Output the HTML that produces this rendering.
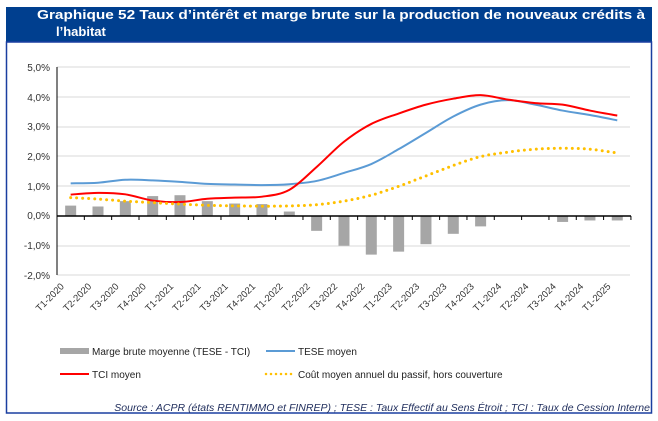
<!DOCTYPE html>
<html><head><meta charset="utf-8"><style>
body{margin:0;background:#fff;}
svg{display:block;font-family:"Liberation Sans",sans-serif;}
</style></head><body>
<svg width="658" height="421" xmlns="http://www.w3.org/2000/svg">
<rect x="0" y="0" width="658" height="421" fill="#fff"/>
<rect x="6" y="7" width="646" height="35" fill="#003f8f"/>
<rect x="6.5" y="42" width="645" height="371" fill="none" stroke="#1a3fa0" stroke-width="1.5"/>
<text x="37" y="19" fill="#fff" font-weight="bold" font-size="13" textLength="608" lengthAdjust="spacingAndGlyphs">Graphique 52 Taux d’intérêt et marge brute sur la production de nouveaux crédits à</text>
<text x="56" y="36" fill="#fff" font-weight="bold" font-size="13">l’habitat</text>
<g stroke="#d9d9d9" stroke-width="1">
<line x1="57" y1="67" x2="630" y2="67"/><line x1="57" y1="97" x2="630" y2="97"/><line x1="57" y1="127" x2="630" y2="127"/><line x1="57" y1="156" x2="630" y2="156"/><line x1="57" y1="186" x2="630" y2="186"/><line x1="57" y1="246" x2="630" y2="246"/><line x1="57" y1="275" x2="630" y2="275"/>
</g>
<g font-size="10" fill="#333" text-anchor="end">
<text x="50" y="71">5,0%</text><text x="50" y="101">4,0%</text><text x="50" y="130">3,0%</text><text x="50" y="160">2,0%</text><text x="50" y="190">1,0%</text><text x="50" y="219">0,0%</text><text x="50" y="249">-1,0%</text><text x="50" y="279">-2,0%</text>
</g>
<g id="bars" fill="#a6a6a6"></g>
<line x1="57" y1="67" x2="57" y2="275" stroke="#000" stroke-width="1"/>
<line x1="57" y1="216" x2="631" y2="216" stroke="#000" stroke-width="1.5"/>
<g id="ticks" stroke="#000"></g>
<path id="tese" fill="none" stroke="#5b9bd5" stroke-width="2"/>
<path id="tci" fill="none" stroke="#ff0000" stroke-width="2"/>
<path id="cout" fill="none" stroke="#ffc000" stroke-width="3" stroke-dasharray="0 6" stroke-linecap="round"/>
<g id="labels" font-size="9.5" fill="#333" text-anchor="end"></g>
<rect x="60" y="348" width="29" height="6" fill="#a6a6a6"/>
<text x="92" y="355" font-size="10" fill="#222">Marge brute moyenne (TESE - TCI)</text>
<line x1="266" y1="351" x2="295" y2="351" stroke="#5b9bd5" stroke-width="2"/>
<text x="298" y="355" font-size="10" fill="#222">TESE moyen</text>
<line x1="60" y1="374" x2="89" y2="374" stroke="#ff0000" stroke-width="2"/>
<text x="92" y="378" font-size="10" fill="#222">TCI moyen</text>
<line x1="266" y1="374" x2="295" y2="374" stroke="#ffc000" stroke-width="2.5" stroke-dasharray="0 5" stroke-linecap="round"/>
<text x="298" y="378" font-size="10" fill="#222">Coût moyen annuel du passif, hors couverture</text>
<text x="650" y="411" font-size="10.5" fill="#1f2d5c" text-anchor="end" font-style="italic">Source : ACPR (états RENTIMMO et FINREP) ; TESE : Taux Effectif au Sens Étroit ; TCI : Taux de Cession Interne</text>
</svg>
<script>
var ns="http://www.w3.org/2000/svg";
function cx(i){return 57+27.33*(i+0.5);}
function y(v){return 216-v*29.7;}
var bars=[0.35,0.32,0.5,0.67,0.7,0.5,0.42,0.4,0.15,-0.5,-1.0,-1.3,-1.2,-0.95,-0.6,-0.35,0,-0.02,-0.2,-0.15,-0.15];
var tese=[1.1,1.12,1.22,1.2,1.15,1.08,1.06,1.04,1.07,1.18,1.45,1.75,2.25,2.8,3.35,3.75,3.9,3.75,3.55,3.4,3.22];
var tci=[0.72,0.78,0.73,0.52,0.47,0.58,0.62,0.65,0.88,1.65,2.5,3.1,3.45,3.75,3.95,4.07,3.92,3.8,3.75,3.55,3.38];
var cout=[0.62,0.57,0.5,0.45,0.4,0.36,0.34,0.33,0.34,0.38,0.5,0.7,1.0,1.35,1.7,2.0,2.15,2.25,2.28,2.25,2.12];
var lab=[];for(var yr=2020;yr<=2025;yr++)for(var q=1;q<=4;q++)lab.push("T"+q+"-"+yr);
var B=document.getElementById("bars"),T=document.getElementById("ticks"),L=document.getElementById("labels");
for(var i=0;i<21;i++){var v=bars[i];var r=document.createElementNS(ns,"rect");
r.setAttribute("x",cx(i)-5.5);r.setAttribute("width",11);r.setAttribute("y",Math.min(y(v),216));r.setAttribute("height",Math.abs(v*29.7));B.appendChild(r);
var t=document.createElementNS(ns,"text");t.setAttribute("transform","translate("+(cx(i)-6)+",287) rotate(-45)");t.textContent=lab[i];L.appendChild(t);}
for(var i=0;i<=21;i++){var l=document.createElementNS(ns,"line");var x=57+27.33*i;l.setAttribute("x1",x);l.setAttribute("x2",x);l.setAttribute("y1",216);l.setAttribute("y2",220);T.appendChild(l);}
function path(a){var p=a.map(function(v,i){return [cx(i),y(v)]});var d="M"+p[0][0]+","+p[0][1];
for(var i=0;i<p.length-1;i++){var p0=p[i-1]||p[i],p1=p[i],p2=p[i+1],p3=p[i+2]||p2;var k=1/6;
d+=" C"+(p1[0]+(p2[0]-p0[0])*k)+","+(p1[1]+(p2[1]-p0[1])*k)+" "+(p2[0]-(p3[0]-p1[0])*k)+","+(p2[1]-(p3[1]-p1[1])*k)+" "+p2[0]+","+p2[1];}
return d;}
document.getElementById("tese").setAttribute("d",path(tese));
document.getElementById("tci").setAttribute("d",path(tci));
document.getElementById("cout").setAttribute("d",path(cout));
</script>
</body></html>
